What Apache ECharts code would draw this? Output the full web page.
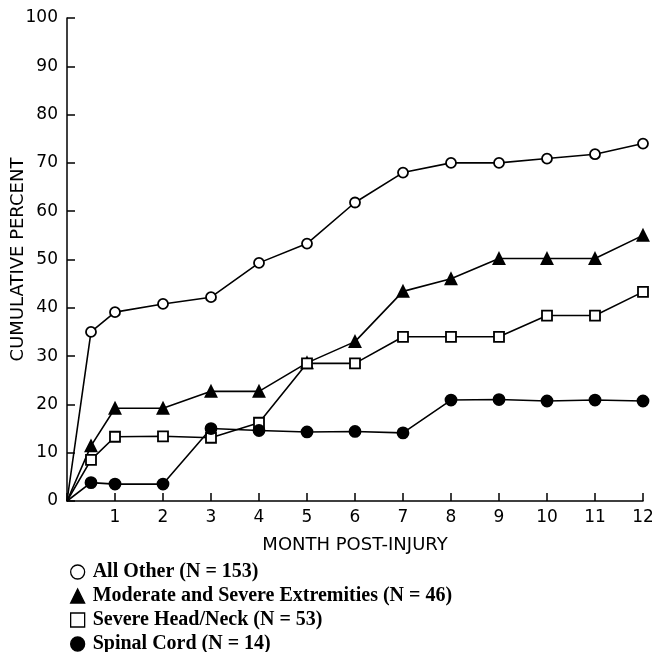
<!DOCTYPE html>
<html><head><meta charset="utf-8">
<script src="https://cdn.jsdelivr.net/npm/echarts@6/dist/echarts.min.js"></script>
<style>html,body{margin:0;padding:0;background:#fff}#c{width:652px;height:652px}</style>
</head><body><div id="c"></div>
<script>
const months = [0, 0.5, 1, 2, 3, 4, 5, 6, 7, 8, 9, 10, 11, 12];
const allOther = [0, 35.0, 39.1, 40.8, 42.2, 49.3, 53.3, 61.8, 68.0, 70.0, 70.0, 70.9, 71.8, 74.0];
const extremities = [0, 11.4, 19.2, 19.2, 22.7, 22.7, 28.6, 33.0, 43.4, 46.0, 50.2, 50.2, 50.2, 55.0];
const headNeck = [0, 8.5, 13.3, 13.4, 13.1, 16.2, 28.5, 28.5, 34.0, 34.0, 34.0, 38.4, 38.4, 43.3];
const spinal = [0, 3.8, 3.5, 3.5, 15.0, 14.6, 14.3, 14.4, 14.1, 20.9, 21.0, 20.7, 20.9, 20.7];
const names = ['All Other (N = 153)', 'Moderate and Severe Extremities (N = 46)', 'Severe Head/Neck (N = 53)', 'Spinal Cord (N = 14)'];
const yTicks = [0, 10, 20, 30, 40, 50, 60, 70, 80, 90, 100];
const xTicks = [1, 2, 3, 4, 5, 6, 7, 8, 9, 10, 11, 12];

function pts(vals){ return months.map((m,i)=> i===0 ? {value:[m,vals[i]], symbol:'none'} : [m, vals[i]]); }

const symDefs = [
  {symbol:'circle', fill:'#fff', size:10},
  {symbol:'triangle', fill:'#000', size:11},
  {symbol:'rect', fill:'#fff', size:10},
  {symbol:'circle', fill:'#000', size:11}
];
const vals = [allOther, extremities, headNeck, spinal];
const legendRowY = [572, 596, 620, 644];

const chart = echarts.init(document.getElementById('c'), null, {renderer:'canvas'});
const axisFont = 'DejaVu Sans';
chart.setOption({
  animation:false,
  backgroundColor:'#fff',
  grid:{left:67, right:9, top:18, bottom:151, containLabel:false, outerBoundsMode:'none'},
  xAxis:{type:'value', min:0, max:12, interval:1,
    name:'MONTH POST-INJURY', nameLocation:'middle', nameGap:35, nameMoveOverlap:false,
    nameTextStyle:{fontFamily:axisFont, fontSize:18, color:'#000'},
    axisLine:{lineStyle:{color:'#000', width:1.5}},
    axisTick:{inside:true, length:8, lineStyle:{color:'#000', width:1.5}},
    axisLabel:{fontFamily:axisFont, fontSize:17, color:'#000', margin:8,
      formatter:v=> xTicks.indexOf(v)>=0 ? String(v) : ''},
    splitLine:{show:false}},
  yAxis:{type:'value', min:0, max:100, interval:10,
    name:'CUMULATIVE PERCENT', nameLocation:'middle', nameGap:40, nameRotate:90, nameMoveOverlap:false,
    nameTextStyle:{fontFamily:axisFont, fontSize:18, color:'#000'},
    axisLine:{show:true, lineStyle:{color:'#000', width:1.5}},
    axisTick:{show:true, inside:true, length:8, lineStyle:{color:'#000', width:1.5}},
    axisLabel:{fontFamily:axisFont, fontSize:17, color:'#000', margin:9,
      formatter:v=> yTicks.indexOf(v)>=0 ? String(v) : ''},
    splitLine:{show:false}},
  legend: names.map((n,i)=>({orient:'vertical', left:70, top:legendRowY[i]-10,
    itemWidth:14, itemHeight:14, padding:0,
    textStyle:{fontFamily:'Liberation Serif', fontSize:20, color:'#000', fontWeight:'bold', padding:[0,0,0,3]},
    data:[{name:n, icon: symDefs[i].symbol,
      itemStyle:{color:symDefs[i].fill, borderColor:'#000', borderWidth:1.3}}]})),
  series: vals.map((v,i)=>({
    type:'line', name:names[i], data:pts(v),
    symbol:symDefs[i].symbol, symbolSize:symDefs[i].size, showAllSymbol:true,
    lineStyle:{color:'#000', width:1.6},
    itemStyle:{color:symDefs[i].fill, borderColor:'#000', borderWidth:1.8},
    z: 2+i
  }))
});
</script></body></html>
